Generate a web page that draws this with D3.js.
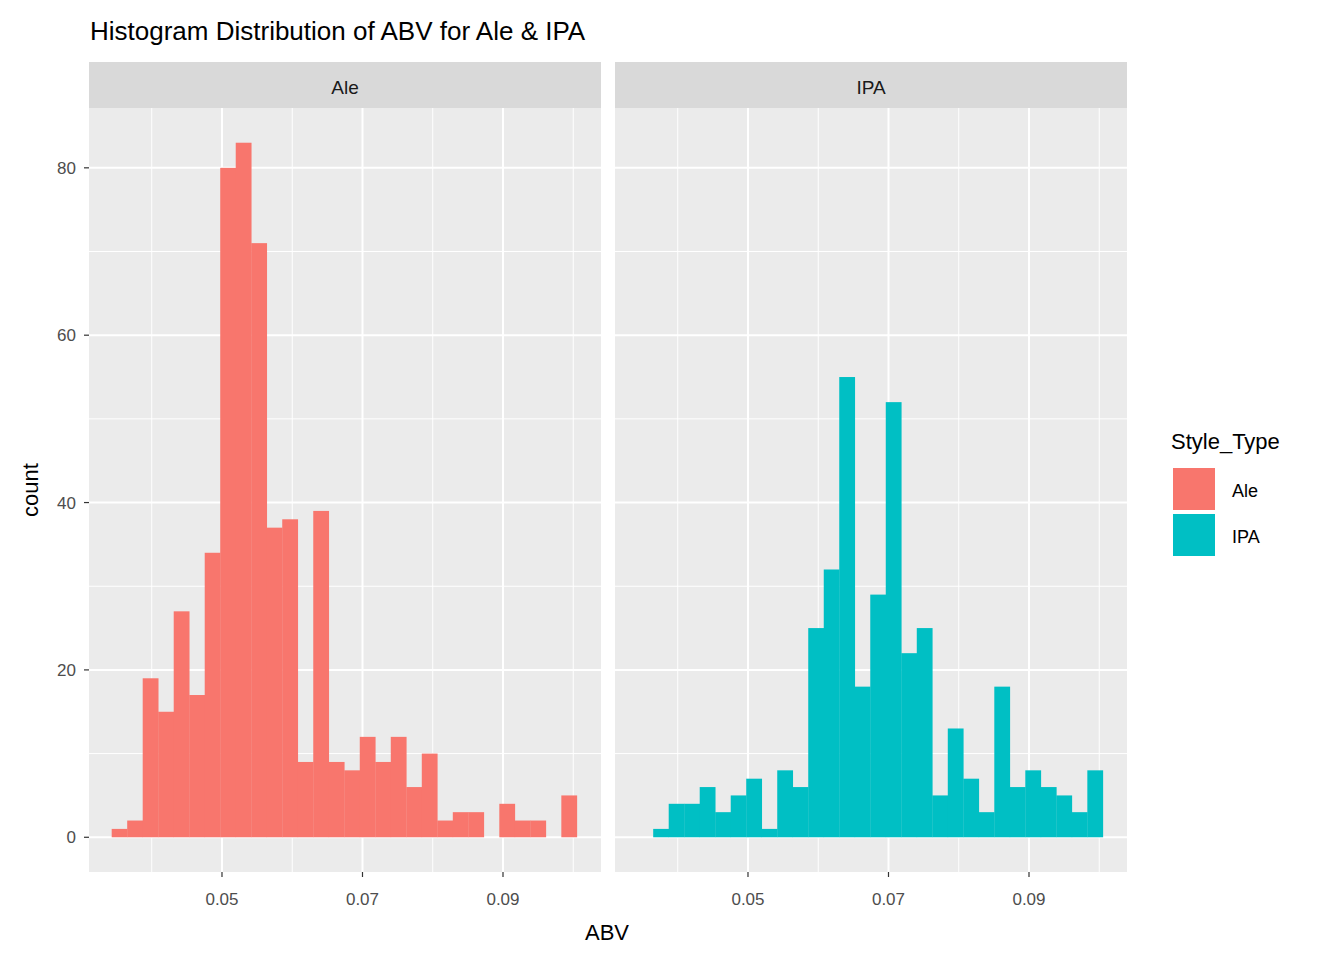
<!DOCTYPE html>
<html><head><meta charset="utf-8">
<script src="https://cdn.jsdelivr.net/npm/d3@7"></script>
<style>body{margin:0;background:#fff}text{font-family:Arial,"Liberation Sans",sans-serif}</style>
</head><body>
<svg id="c" width="1344" height="960"></svg>
<script>
const panels = ["Ale", "IPA"];
const colors = ["#F8766D", "#00BFC4"];
const binStart = 0.0343, binWidth = 0.002207;
const aleCounts = [1,2,19,15,27,17,34,80,83,71,37,38,9,39,9,8,12,9,12,6,10,2,3,3,0,4,2,2,0,5];
const ipaCounts = [0,1,4,4,6,3,5,7,1,8,6,25,32,55,18,29,52,22,25,5,13,7,3,18,6,8,6,5,3,8];
const xTicks = [0.05, 0.07, 0.09];
const xMinor = [0.04, 0.06, 0.08, 0.10];
const yTicks = [0, 20, 40, 60, 80];
const yMinor = [10, 30, 50, 70];

(function(){
const svg = d3.select("#c");
const pw = 512, pTop = 108, pBottom = 872;
const lefts = [89, 615];
const x = d3.scaleLinear().domain([0.03107, 0.10395]).range([0, pw]);
const y = d3.scaleLinear().domain([-4.15, 87.15]).range([pBottom, pTop]);
const data = [aleCounts, ipaCounts];

panels.forEach((p, i) => {
  const g = svg.append("g").attr("transform", `translate(${lefts[i]},0)`);
  g.append("rect").attr("x", 0).attr("y", pTop).attr("width", pw).attr("height", pBottom - pTop).attr("fill", "#EBEBEB");
  g.append("rect").attr("x", 0).attr("y", 62).attr("width", pw).attr("height", 46).attr("fill", "#D9D9D9");
  g.append("text").attr("x", pw / 2).attr("y", 94).attr("text-anchor", "middle").attr("font-size", 19).attr("fill", "#1A1A1A").text(p);
  yMinor.forEach(v => g.append("line").attr("x1", 0).attr("x2", pw).attr("y1", y(v)).attr("y2", y(v)).attr("stroke", "#fff").attr("stroke-width", 1));
  xMinor.forEach(v => g.append("line").attr("x1", x(v)).attr("x2", x(v)).attr("y1", pTop).attr("y2", pBottom).attr("stroke", "#fff").attr("stroke-width", 1));
  yTicks.forEach(v => g.append("line").attr("x1", 0).attr("x2", pw).attr("y1", y(v)).attr("y2", y(v)).attr("stroke", "#fff").attr("stroke-width", 2));
  xTicks.forEach(v => g.append("line").attr("x1", x(v)).attr("x2", x(v)).attr("y1", pTop).attr("y2", pBottom).attr("stroke", "#fff").attr("stroke-width", 2));
  g.selectAll("rect.bar").data(data[i]).enter().append("rect").attr("class", "bar")
    .attr("x", (d, k) => x(binStart + k * binWidth))
    .attr("width", (d, k) => x(binStart + (k + 1) * binWidth) - x(binStart + k * binWidth) + 0.3)
    .attr("y", d => y(d)).attr("height", d => y(0) - y(d))
    .attr("fill", colors[i]);
  xTicks.forEach(v => {
    g.append("line").attr("x1", x(v)).attr("x2", x(v)).attr("y1", pBottom).attr("y2", pBottom + 5).attr("stroke", "#333").attr("stroke-width", 1.2);
    g.append("text").attr("x", x(v)).attr("y", pBottom + 33).attr("text-anchor", "middle").attr("font-size", 17).attr("fill", "#4D4D4D").text(d3.format(".2f")(v));
  });
  if (i === 0) yTicks.forEach(v => {
    g.append("line").attr("x1", -5).attr("x2", 0).attr("y1", y(v)).attr("y2", y(v)).attr("stroke", "#333").attr("stroke-width", 1.2);
    g.append("text").attr("x", -13).attr("y", y(v) + 6).attr("text-anchor", "end").attr("font-size", 17).attr("fill", "#4D4D4D").text(v);
  });
});

svg.append("text").attr("x", 90).attr("y", 40).attr("font-size", 26).attr("fill", "#000").text("Histogram Distribution of ABV for Ale & IPA");
svg.append("text").attr("x", 607).attr("y", 940).attr("text-anchor", "middle").attr("font-size", 22).text("ABV");
svg.append("text").attr("transform", "translate(38,490) rotate(-90)").attr("text-anchor", "middle").attr("font-size", 22).text("count");

svg.append("text").attr("x", 1171).attr("y", 449).attr("font-size", 22).text("Style_Type");
panels.forEach((p, i) => {
  svg.append("rect").attr("x", 1173).attr("y", 468 + i * 46).attr("width", 42).attr("height", 42).attr("fill", colors[i]);
  svg.append("text").attr("x", 1232).attr("y", 497 + i * 46).attr("font-size", 18).text(p);
});
})();
</script>
</body></html>
